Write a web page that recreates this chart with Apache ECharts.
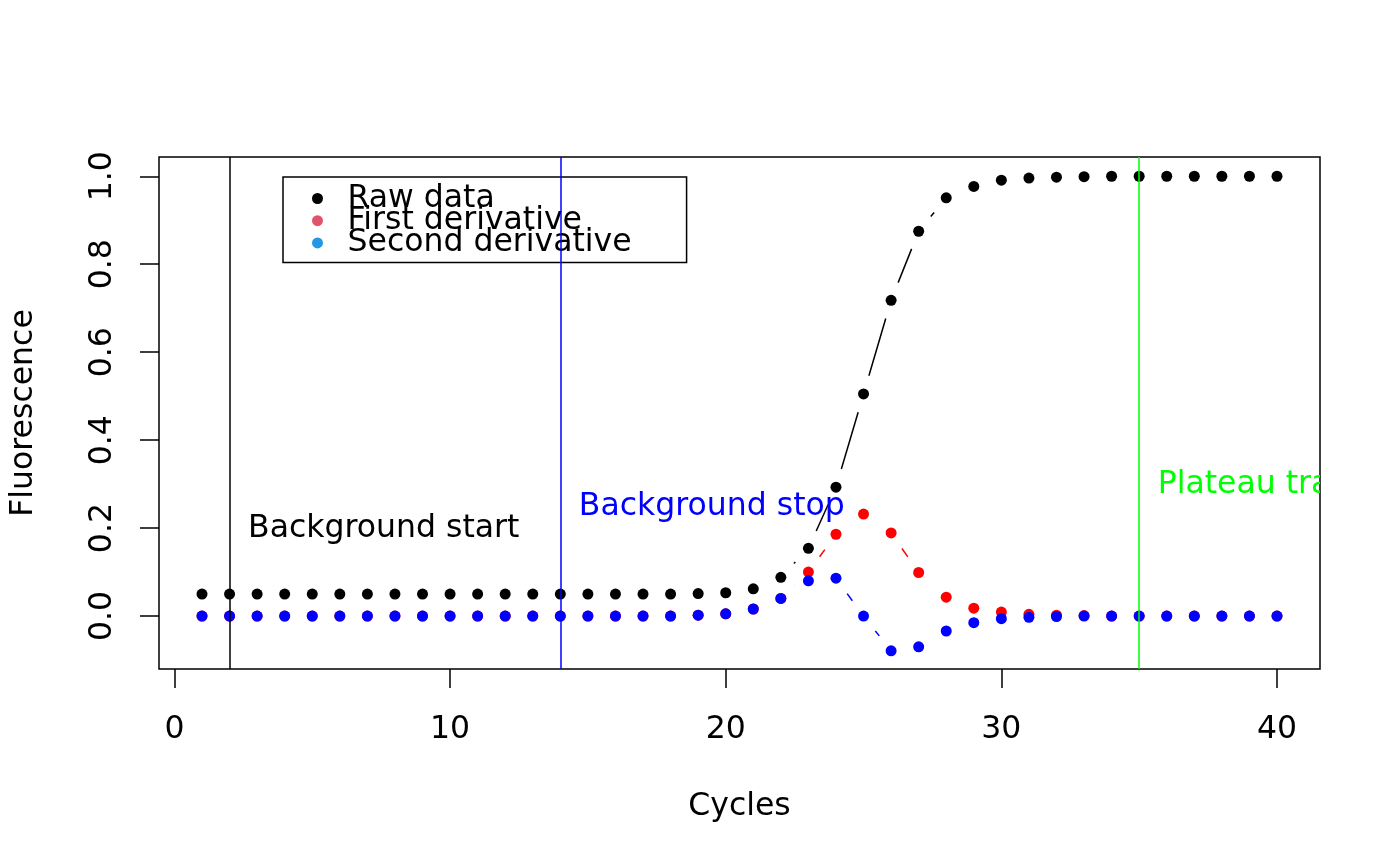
<!DOCTYPE html>
<html>
<head>
<meta charset="utf-8">
<script src="https://cdn.jsdelivr.net/npm/echarts@6/dist/echarts.min.js"></script>
<style>html,body{margin:0;padding:0;background:#fff}#c{width:1400px;height:866px}</style>
</head>
<body>
<div id="c"></div>
<script>
// ---- data ----
const cycles = [1,2,3,4,5,6,7,8,9,10,11,12,13,14,15,16,17,18,19,20,21,22,23,24,25,26,27,28,29,30,31,32,33,34,35,36,37,38,39,40];
const rawData = [0.05,0.05,0.05,0.05,0.05,0.05,0.05,0.05,0.05,0.05,0.05,0.05,0.05,0.05,0.05,0.05,0.05,0.05,0.051,0.053,0.062,0.088,0.154,0.293,0.505,0.718,0.875,0.951,0.977,0.991,0.996,0.998,0.999,1.0,1.0,1.0,1.0,1.0,1.0,1.0];
const firstDeriv = [0,0,0,0,0,0,0,0,0,0,0,0,0,0,0,0,0,0,0.002,0.005,0.016,0.040,0.100,0.186,0.232,0.189,0.099,0.043,0.018,0.009,0.004,0.002,0.001,0,0,0,0,0,0,0];
const secondDeriv = [0,0,0,0,0,0,0,0,0,0,0,0,0,0,0,0,0,0,0.002,0.005,0.016,0.040,0.080,0.086,0.000,-0.079,-0.070,-0.034,-0.015,-0.006,-0.003,-0.001,0,0,0,0,0,0,0,0];
const xTicks = [0,10,20,30,40];
const yTicks = [0,0.2,0.4,0.6,0.8,1.0];
const vLineX = [2,14,35];
const vLineColors = ['#000000','#0000FF','#00FF00'];
const annotX = [2,14,35];
const annotY = [0.2,0.25,0.3];
const annotText = ['Background start','Background stop','Plateau transition'];
const annotColors = ['#000000','#0000FF','#00FF00'];
const seriesNames = ['Raw data','First derivative','Second derivative'];
const legendColors = ['#000000','#DF536B','#2297E6'];

const FONT = 'DejaVu Sans';
const FS = 31.5;
const GAP = 19;

function pts(ys){ return cycles.map((c,i)=>[c, ys[i]]); }

function gapLine(ys, color, z){
  return {
    type:'custom', coordinateSystem:'cartesian2d', silent:true, z:z, clip:true,
    data: cycles.slice(0,-1).map((c,i)=>[c, ys[i], cycles[i+1], ys[i+1]]),
    encode:{x:[0,2], y:[1,3]},
    renderItem:function(params, api){
      const p1 = api.coord([api.value(0), api.value(1)]);
      const p2 = api.coord([api.value(2), api.value(3)]);
      const dx = p2[0]-p1[0], dy = p2[1]-p1[1];
      const d = Math.hypot(dx, dy);
      if (d <= 2*GAP) return null;
      const ux = dx/d, uy = dy/d;
      return {type:'line', shape:{x1:p1[0]+ux*GAP, y1:p1[1]+uy*GAP, x2:p2[0]-ux*GAP, y2:p2[1]-uy*GAP},
        style:{stroke:color, lineWidth:1.5}};
    }
  };
}

function scatter(name, ys, color, z){
  return {type:'scatter', name:name, data:pts(ys), symbol:'circle', symbolSize:11,
    itemStyle:{color:color, opacity:1}, z:z, silent:true, clip:true};
}

const chart = echarts.init(document.getElementById('c'), null, {renderer:'canvas'});
const blueSeries = scatter(seriesNames[2], secondDeriv, '#0000FF', 4);
blueSeries.markLine = {
  silent:true, symbol:['none','none'], animation:false, label:{show:false},
  lineStyle:{type:'solid', width:1.5},
  data: vLineX.map((x,i)=>({xAxis:x, lineStyle:{color:vLineColors[i], type:'solid', width:1.5}}))
};

chart.setOption({
  animation:false,
  backgroundColor:'#ffffff',
  grid:{left:157, right:80, top:157, bottom:197, show:true, borderColor:'#000', borderWidth:1.5, backgroundColor:'transparent'},
  xAxis:{
    type:'value', min:-0.56, max:41.56,
    name:'Cycles', nameLocation:'middle', nameGap:122,
    nameTextStyle:{fontFamily:FONT, fontSize:FS, color:'#000'},
    axisLine:{show:false, onZero:false},
    axisTick:{show:true, inside:false, length:19, lineStyle:{color:'#000', width:1.5}, customValues:xTicks},
    axisLabel:{fontFamily:FONT, fontSize:FS, color:'#000', margin:45, customValues:xTicks, formatter:v=>String(v)},
    splitLine:{show:false}
  },
  yAxis:{
    type:'value', min:-0.1204, max:1.0438,
    name:'Fluorescence', nameLocation:'middle', nameGap:119, nameRotate:90,
    nameTextStyle:{fontFamily:FONT, fontSize:FS, color:'#000'},
    axisLine:{show:false, onZero:false},
    axisTick:{show:true, inside:false, length:19, lineStyle:{color:'#000', width:1.5}, customValues:yTicks},
    axisLabel:{fontFamily:FONT, fontSize:FS, color:'#000', margin:40, rotate:90, customValues:yTicks, formatter:v=>v.toFixed(1)},
    splitLine:{show:false}
  },
  legend:{
    orient:'vertical', left:283, top:177,
    padding:[5.5, 55, 3.5, 29],
    itemGap:-9.8, itemWidth:50, itemHeight:11, icon:'circle', symbolKeepAspect:true,
    borderColor:'#000', borderWidth:1.5, backgroundColor:'#fff',
    textStyle:{fontFamily:FONT, fontSize:FS, color:'#000'},
    selectedMode:false,
    data: seriesNames.map((n,i)=>({name:n, itemStyle:{color:legendColors[i]}}))
  },
  series:[
    gapLine(rawData, '#000000', 1),
    scatter(seriesNames[0], rawData, '#000000', 2),
    gapLine(firstDeriv, '#FF0000', 2),
    scatter(seriesNames[1], firstDeriv, '#FF0000', 3),
    gapLine(secondDeriv, '#0000FF', 3),
    blueSeries,
    {
      type:'custom', coordinateSystem:'cartesian2d', silent:true, z:6, clip:true,
      data: annotX.map((x,i)=>[x, annotY[i], i]),
      encode:{x:0, y:1},
      renderItem:function(params, api){
        const i = api.value(2);
        const p = api.coord([api.value(0), api.value(1)]);
        return {type:'text', x:p[0]+18.5, y:p[1]+0.5,
          style:{text:annotText[i], fill:annotColors[i], fontFamily:FONT, fontSize:FS, align:'left', verticalAlign:'middle'}};
      }
    }
  ]
});
</script>
</body>
</html>
